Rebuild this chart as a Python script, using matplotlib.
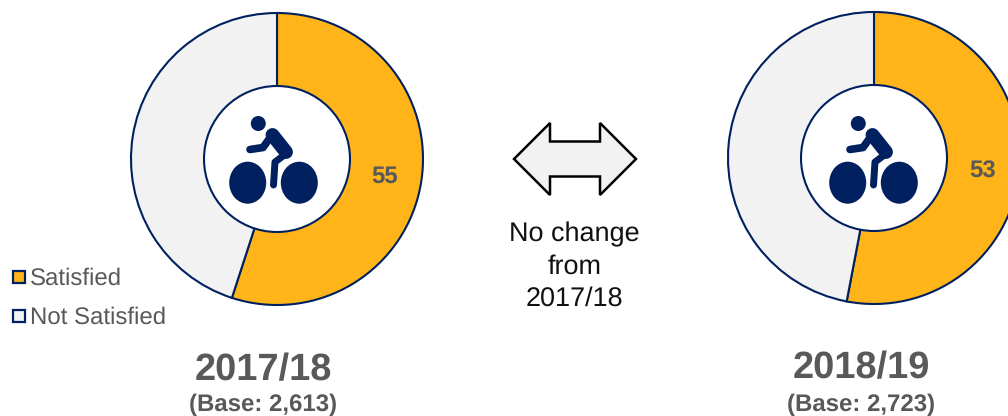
import matplotlib
matplotlib.use('Agg')
import matplotlib.pyplot as plt
from matplotlib.patches import Circle, Ellipse, Polygon, Rectangle

plt.rcParams['font.family'] = ['Liberation Sans', 'DejaVu Sans']
plt.rcParams['text.hinting'] = 'no_hinting'
plt.rcParams['text.hinting_factor'] = 1

W, H = 1008, 416
NAVY = '#002060'
GOLD = '#FFB519'
PALE = '#F2F2F2'
GREY = '#595959'

years = ['2017/18', '2018/19']
bases = ['(Base: 2,613)', '(Base: 2,723)']
satisfied = [55, 53]
not_satisfied = [45, 47]
legend_labels = ['Satisfied', 'Not Satisfied']
note_lines = ['No change', 'from', '2017/18']

fig = plt.figure(figsize=(W / 100, H / 100), dpi=100)
ax = fig.add_axes([0, 0, 1, 1])


def flip(y):
    return H - y


def draw_bike(ax, dx):
    # icon is laid out around the left donut, dx moves it across
    ax.add_patch(Circle((258.3 + dx, flip(123.5)), 7.5, fc=NAVY, ec='none', zorder=5))
    for cx in (247.7, 299.3):
        ax.add_patch(Ellipse((cx + dx, flip(182.7)), 37, 42, fc=NAVY, ec='none', zorder=5))
    arm_x = [250, 263, 272]
    arm_y = [149.5, 147.5, 135]
    ax.plot([x + dx for x in arm_x], [flip(y) for y in arm_y], color=NAVY, lw=5.5,
            solid_capstyle='round', solid_joinstyle='round', zorder=5)
    torso_x = [272.5, 286]
    torso_y = [135, 152]
    ax.plot([x + dx for x in torso_x], [flip(y) for y in torso_y], color=NAVY, lw=10,
            solid_capstyle='round', zorder=5)
    leg_x = [287, 275, 273.5]
    leg_y = [153, 162, 185]
    ax.plot([x + dx for x in leg_x], [flip(y) for y in leg_y], color=NAVY, lw=5,
            solid_capstyle='round', solid_joinstyle='round', zorder=5)


centers = [(277, 159), (874, 158)]
bike_dx = [0, 600]
label_pos = [(385, 177), (983, 172)]
title_x = [263, 861]
title_y = [370, 368]

for i in range(2):
    cx, cy = centers[i]
    ax.pie([satisfied[i], not_satisfied[i]], colors=[GOLD, PALE], startangle=90,
           counterclock=False, center=(cx, flip(cy)), radius=146, frame=True,
           wedgeprops={'edgecolor': NAVY, 'linewidth': 1.5})
    ax.add_patch(Circle((cx, flip(cy)), 73, fc='white', ec=NAVY, lw=1.5, zorder=4))
    draw_bike(ax, bike_dx[i])
    ax.text(label_pos[i][0], flip(label_pos[i][1]), str(satisfied[i]), color=GREY,
            fontsize=17.3, fontweight='bold', ha='center', va='center', zorder=6)
    ax.text(title_x[i], flip(title_y[i]), years[i], color=GREY, fontsize=27.2,
            fontweight='bold', ha='center', va='center')
    ax.text(title_x[i], flip(404.5), bases[i], color=GREY, fontsize=17.3,
            fontweight='bold', ha='center', va='center')

# double headed arrow between the two donuts
arrow_x = [514, 550, 550, 600, 600, 636, 600, 600, 550, 550]
arrow_y = [159, 123, 141.5, 141.5, 123, 159, 195, 176.5, 176.5, 195]
ax.add_patch(Polygon([(x, flip(y)) for x, y in zip(arrow_x, arrow_y)], closed=True,
                     fc=PALE, ec='black', lw=1.8))

for line, y in zip(note_lines, [234.5, 266.5, 298.5]):
    ax.text(574.5, flip(y), line, color='#111111', fontsize=19.2, ha='center', va='center')

for label, color, y in zip(legend_labels, [GOLD, PALE], [277, 316]):
    ax.add_patch(Rectangle((12.5, flip(y) - 6), 12, 12, fc=color, ec=NAVY, lw=1.6))
    ax.text(30, flip(y + 2), label, color=GREY, fontsize=17, ha='left', va='center')

ax.set_xlim(0, W)
ax.set_ylim(0, H)
ax.set_aspect('equal')
ax.axis('off')

fig.savefig('out.png', dpi=100)
